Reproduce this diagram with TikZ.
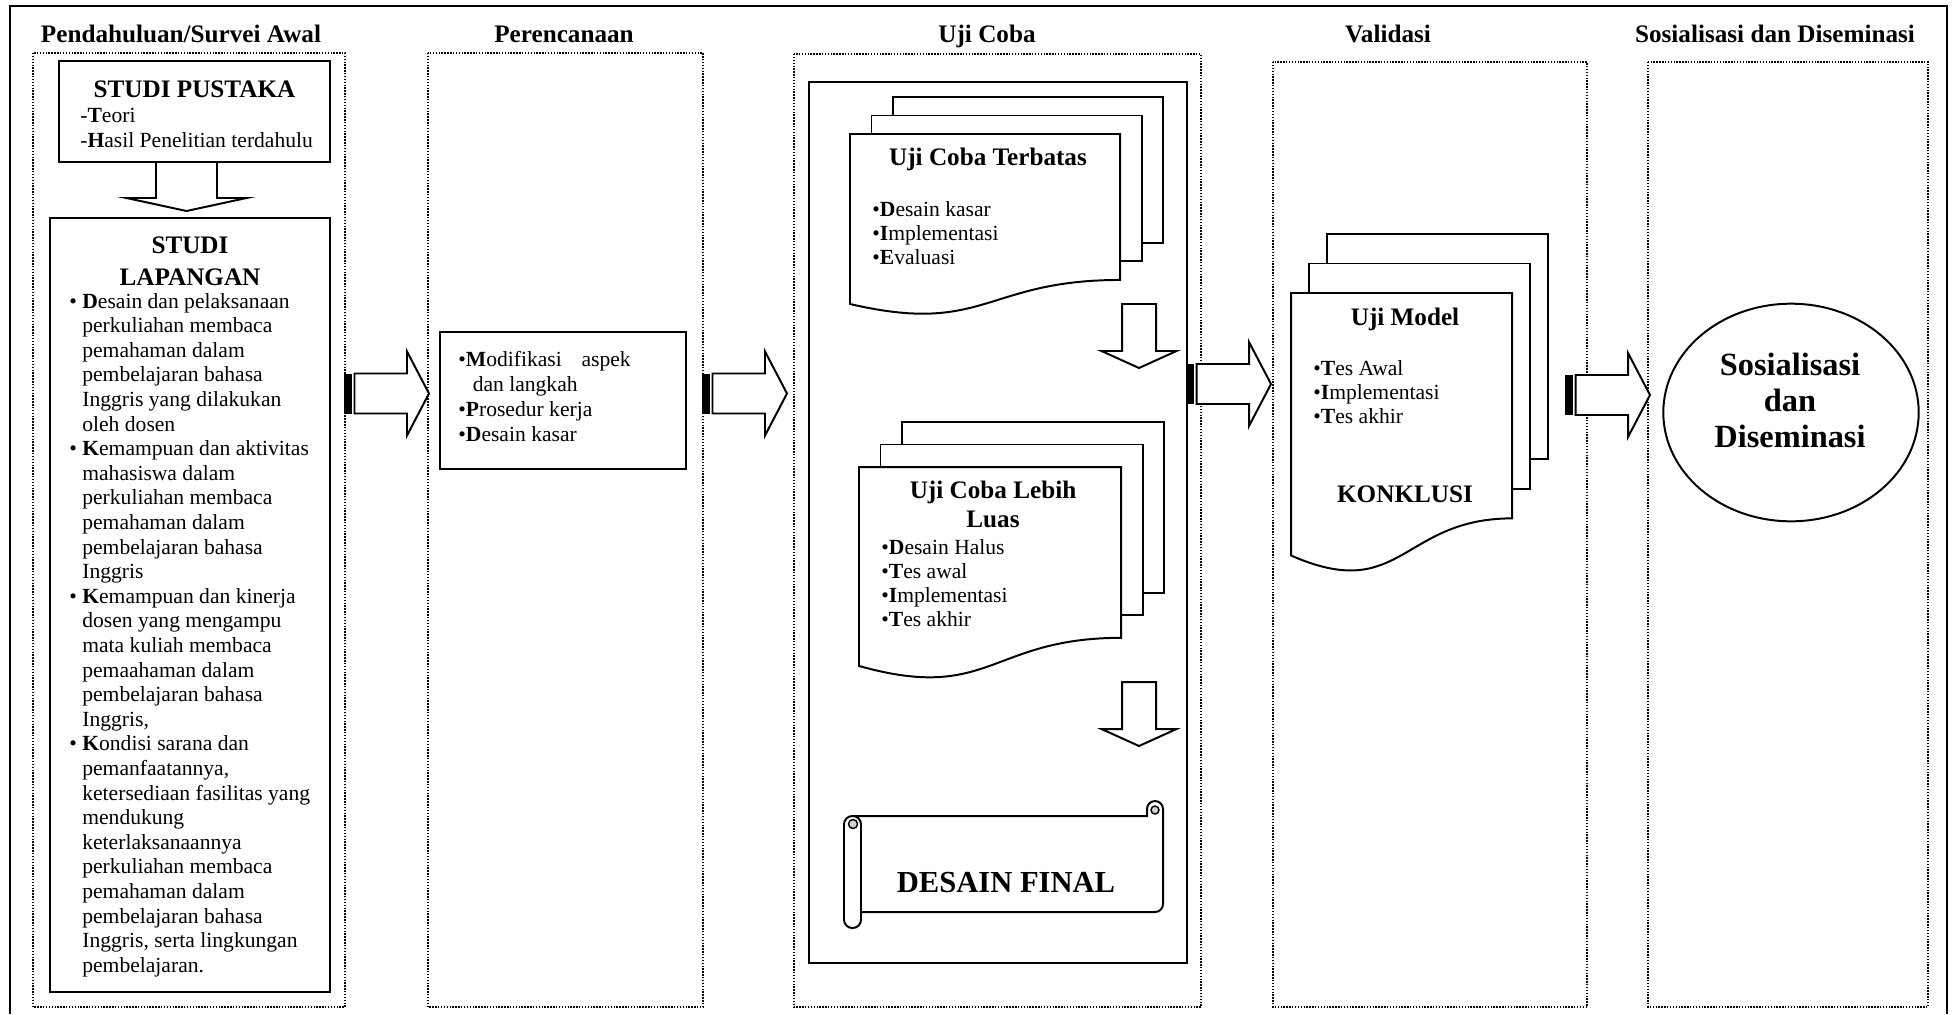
\documentclass[tikz,border=0pt]{standalone}
\usepackage{fontspec}
\setmainfont{Liberation Serif}
\usetikzlibrary{shapes.geometric}
\tikzset{colbox/.style={draw, line width=0.8pt, dash pattern=on 0.8pt off 0.8pt},
 solidbox/.style={draw, line width=1.1pt},
 docpage/.style={draw, line width=1.1pt, fill=white},
 blockarrow/.style={draw, line width=1.1pt, fill=white, line join=miter},
 colhead/.style={font=\fontsize{14}{16}\selectfont\bfseries, inner sep=0pt, anchor=base},
 boxtitle/.style={font=\fontsize{14}{16}\selectfont\bfseries, inner sep=0pt, anchor=base},
 bigtitle/.style={font=\fontsize{18}{20}\selectfont\bfseries, inner sep=0pt, anchor=base},
 itemtext/.style={font=\fontsize{12}{14}\selectfont, inner sep=0pt, anchor=base west},
 }
% one node per line: [style]{x}{first baseline}{line step}{name}{lines}
\newcommand{\textlines}[6][itemtext]{%
  \foreach \t [count=\i from 0] in {#6} \node[#1] (#5\i) at (#2,#3+#4*\i) {\t};}
\newcommand{\stripearrow}[2]{%
  \fill (#1,#2-20) rectangle (#1+8,#2+20);
  \draw[blockarrow] (#1+10.5,#2-20) -- (#1+63,#2-20) -- (#1+63,#2-42) -- (#1+85,#2)
    -- (#1+63,#2+42) -- (#1+63,#2+20) -- (#1+10.5,#2+20) -- cycle;}
\newcommand{\downblock}[6]{%
  \draw[blockarrow] (#1-#3,#2) -- (#1+#3,#2) -- (#1+#3,#5) -- (#1+#4,#5) -- (#1,#6)
    -- (#1-#4,#5) -- (#1-#3,#5) -- cycle;}
% three stacked pages, the front one with a wavy bottom
\newcommand{\docstack}[6]{%
  \draw[docpage] (#1+2*#5,#2-2*#6) rectangle (#1+2*#5+#3,#2-2*#6+0.802*#4);
  \draw[docpage] (#1+#5,#2-#6) rectangle (#1+#5+#3,#2-#6+0.802*#4);
  \draw[docpage] (#1,#2) -- (#1+#3,#2) -- (#1+#3,#2+0.802*#4)
    .. controls (#1+0.5*#3,#2+0.802*#4) and (#1+0.5*#3,#2+1.1075*#4) .. (#1,#2+0.934*#4) -- cycle;}

\begin{document}
\begin{tikzpicture}[x=0.556pt, y=-0.556pt]
    \useasboundingbox (0,0) rectangle (1955,1014);
    \draw[line width=1.1pt] (10,1014) -- (10,6) -- (1947,6) -- (1947,1014);

    \node[colhead] (h1) at (181,42) {Pendahuluan/Survei Awal};
    \node[colhead] (h2) at (564,42) {Perencanaan};
    \node[colhead] (h3) at (987,42) {Uji Coba};
    \node[colhead] (h4) at (1388,42) {Validasi};
    \node[colhead] (h5) at (1775,42) {Sosialisasi dan Diseminasi};
    \foreach \l/\t/\r in {33/53/345, 428/53/703, 794/54/1201, 1273/62/1587, 1648/62/1928}
        \draw[colbox] (\l,\t) rectangle (\r,1007);

    % pendahuluan
    \draw[solidbox] (59,61) rectangle (330,162);
    \node[boxtitle] (pustaka) at (194.5,97) {STUDI PUSTAKA};
    \textlines{80}{122}{25}{teori}{{-\textbf{T}eori}, {-\textbf{H}asil Penelitian terdahulu}}
    \downblock{186.5}{162}{30.5}{60}{198}{211}
    \draw[solidbox, line width=1.5pt] (50,218) rectangle (330,992);
    \textlines[boxtitle]{190}{253}{32}{lapangan}{STUDI, LAPANGAN}
    \textlines{82}{308}{24.6}{lap}{{\llap{\textbullet\ }\textbf{D}esain dan pelaksanaan},
        {perkuliahan membaca}, {pemahaman dalam}, {pembelajaran bahasa},
        {Inggris yang dilakukan}, {oleh dosen},
        {\llap{\textbullet\ }\textbf{K}emampuan dan aktivitas}, {mahasiswa dalam},
        {perkuliahan membaca}, {pemahaman dalam}, {pembelajaran bahasa}, {Inggris},
        {\llap{\textbullet\ }\textbf{K}emampuan dan kinerja}, {dosen yang mengampu},
        {mata kuliah membaca}, {pemaahaman dalam}, {pembelajaran bahasa}, {Inggris,},
        {\llap{\textbullet\ }\textbf{K}ondisi sarana dan}, {pemanfaatannya,},
        {ketersediaan fasilitas yang}, {mendukung}, {keterlaksanaannya},
        {perkuliahan membaca}, {pemahaman dalam}, {pembelajaran bahasa},
        {Inggris, serta lingkungan}, {pembelajaran.}}
    \stripearrow{344}{393.5}

    % perencanaan
    \draw[solidbox] (440,332) rectangle (686,469);
    \textlines{458}{366}{25.3}{rencana}{{\textbullet\textbf{M}odifikasi\hspace{11pt}aspek},
        {\hspace*{8pt}dan langkah}, {\textbullet\textbf{P}rosedur kerja}, {\textbullet\textbf{D}esain kasar}}
    \stripearrow{702}{393.5}

    % uji coba
    \draw[line width=0.7pt] (809,82) rectangle (1187,963);
    \docstack{850}{134}{270}{182}{21.5}{18.5}
    \node[boxtitle] (terbatas) at (988,165) {Uji Coba Terbatas};
    \textlines{872}{216}{24}{terbatas}{{\textbullet\textbf{D}esain kasar},
        {\textbullet\textbf{I}mplementasi}, {\textbullet\textbf{E}valuasi}}
    \downblock{1139}{304}{17}{37.5}{351}{368}
    \docstack{859}{467}{262}{213}{21.5}{22.5}
    \textlines[boxtitle]{993}{498}{29}{luastitle}{Uji Coba Lebih, Luas}
    \textlines{881}{554}{24.3}{luas}{{\textbullet\textbf{D}esain Halus}, {\textbullet\textbf{T}es awal},
        {\textbullet\textbf{I}mplementasi}, {\textbullet\textbf{T}es akhir}}
    \downblock{1139}{682}{17}{37.5}{729}{746}
    \draw[docpage] (853,816) -- (1147,816) -- (1147,809) arc[start angle=180, end angle=360, radius=8]
        -- (1163,904) arc[start angle=0, end angle=90, radius=8] -- (853,912);
    \draw[fill=gray!35, line width=0.8pt] (1155,810) circle (4);
    \draw[docpage, rounded corners=4.6pt] (844,816) rectangle (861,928);
    \draw[fill=gray!35, line width=0.8pt] (853,824) circle (4.5);
    \node[font=\fontsize{17}{20}\selectfont\bfseries, inner sep=0pt, anchor=base] (final) at (1006,892) {DESAIN FINAL};
    \stripearrow{1186}{384}

    % validasi
    \docstack{1291}{293}{221}{281}{18}{29.5}
    \node[boxtitle] (ujimodel) at (1405,325) {Uji Model};
    \textlines{1313}{375}{24}{model}{{\textbullet\textbf{T}es Awal},
        {\textbullet\textbf{I}mplementasi}, {\textbullet\textbf{T}es akhir}}
    \node[boxtitle] (konklusi) at (1405,502) {KONKLUSI};
    \stripearrow{1565}{395}

    % sosialisasi
    \node[draw, ellipse, line width=1.1pt, minimum width=142pt, minimum height=121pt, inner sep=0pt] (sosial) at (1791,412.5) {};
    \textlines[bigtitle]{1790}{375}{36}{sosialtext}{Sosialisasi, dan, Diseminasi}
\end{tikzpicture}
\end{document}
